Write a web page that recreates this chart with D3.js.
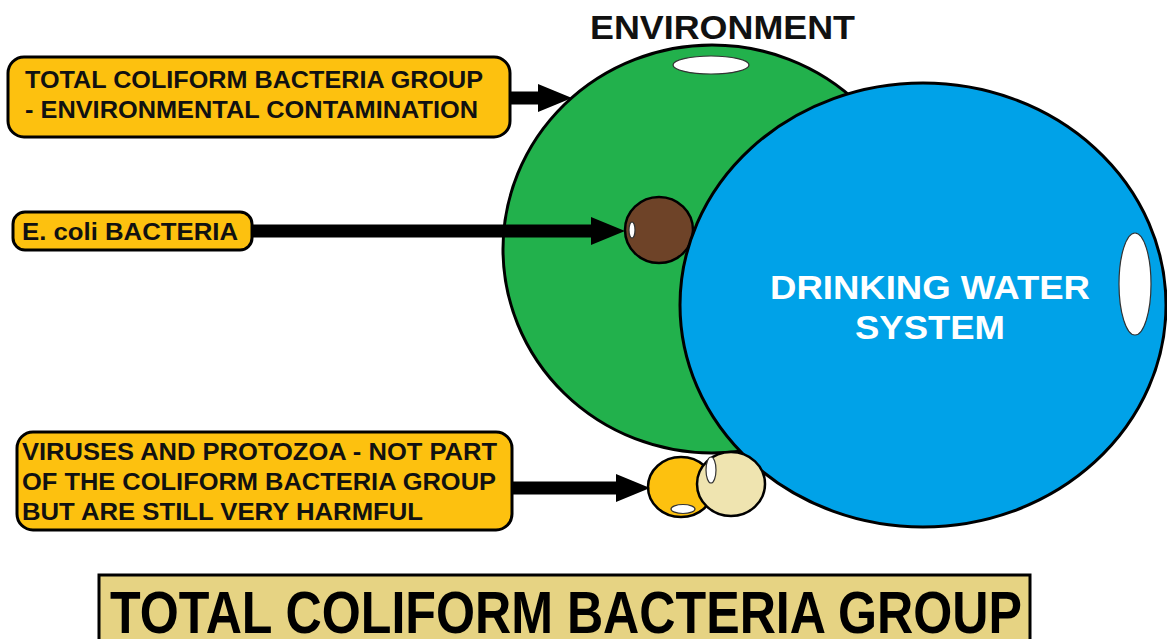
<!DOCTYPE html>
<html>
<head>
<meta charset="utf-8">
<script src="https://cdn.jsdelivr.net/npm/d3@7"></script>
<style>
  body { margin: 0; background: #fff; }
  svg text { font-family: "Liberation Sans", Arial, sans-serif; font-weight: bold; }
</style>
</head>
<body>
<div id="chart"></div>
<script>
// diagram content
var blobNames = ["environment", "water", "ecoli", "virus", "protozoa"]
var blobColors = ["#22b14c", "#00a2e8", "#6e4328", "#fdc10f", "#efe4b0"]

var calloutLines = [
  ["TOTAL COLIFORM BACTERIA GROUP", "- ENVIRONMENTAL CONTAMINATION"],
  ["E. coli BACTERIA"],
  ["VIRUSES AND PROTOZOA - NOT PART", "OF THE COLIFORM BACTERIA GROUP", "BUT ARE STILL VERY HARMFUL"]
]

var envLabel = "ENVIRONMENT"
var waterLabel = ["DRINKING WATER", "SYSTEM"]
var mainTitle = "TOTAL COLIFORM BACTERIA GROUP"

var svgWidth = 1167
var svgHeight = 639

var svg = d3.select("#chart")
  .append("svg")
  .attr("width", svgWidth)
  .attr("height", svgHeight)

// layout (pixels)
var blobGeom = {
  environment: { cx: 712, cy: 249, rx: 209, ry: 204 },
  water:       { cx: 923, cy: 305, rx: 243, ry: 222 },
  ecoli:       { cx: 659, cy: 230, rx: 34, ry: 33 },
  virus:       { cx: 681, cy: 487, rx: 33, ry: 30 },
  protozoa:    { cx: 731, cy: 484, rx: 34, ry: 32 }
}
var highlights = [
  { cx: 711, cy: 65, rx: 38, ry: 9 },
  { cx: 1135, cy: 284, rx: 16, ry: 51 },
  { cx: 632, cy: 230, rx: 3, ry: 8 },
  { cx: 683, cy: 509, rx: 12, ry: 4.5 },
  { cx: 711, cy: 470, rx: 5, ry: 13 }
]
var boxes = [
  { x: 8, y: 57, w: 502, h: 80, r: 16, tx: 25, base: 88, gap: 30, widths: [458, 453], arrowY: 98, arrowTo: 572 },
  { x: 13, y: 212, w: 239, h: 38, r: 12, tx: 22, base: 240, gap: 0, widths: [216], arrowY: 231, arrowTo: 625 },
  { x: 17, y: 432, w: 495, h: 98, r: 16, tx: 22, base: 460, gap: 30, widths: [475, 474, 401], arrowY: 488, arrowTo: 650 }
]
var waterWidths = [320, 150]

var blobs = blobNames.map((n, i) => Object.assign({ name: n, color: blobColors[i] }, blobGeom[n]))
var drawOrder = ["environment", "ecoli", "water", "virus", "protozoa"]

svg.append("g")
  .selectAll("ellipse")
  .data(drawOrder.map(n => blobs.find(b => b.name == n)))
  .enter()
  .append("ellipse")
  .attr("cx", d => d.cx)
  .attr("cy", d => d.cy)
  .attr("rx", d => d.rx)
  .attr("ry", d => d.ry)
  .attr("fill", d => d.color)
  .attr("stroke", "#000")
  .attr("stroke-width", d => d.rx > 100 ? 3 : 2.5)

// white specks
svg.append("g")
  .selectAll("ellipse")
  .data(highlights)
  .enter()
  .append("ellipse")
  .attr("cx", d => d.cx)
  .attr("cy", d => d.cy)
  .attr("rx", d => d.rx)
  .attr("ry", d => d.ry)
  .attr("fill", "#fff")
  .attr("stroke", "#333")
  .attr("stroke-width", 1.2)

// arrows
var arrows = svg.append("g")
boxes.forEach(b => {
  var x0 = b.x + b.w, x1 = b.arrowTo, y = b.arrowY
  var head = 34, hh = 14, sh = 6.5
  arrows.append("path")
    .attr("d", `M${x0},${y - sh} L${x1 - head},${y - sh} L${x1 - head},${y - hh} L${x1},${y} L${x1 - head},${y + hh} L${x1 - head},${y + sh} L${x0},${y + sh} Z`)
    .attr("fill", "#000")
})

// callout boxes
var callouts = svg.append("g")
boxes.forEach((b, i) => {
  callouts.append("rect")
    .attr("x", b.x).attr("y", b.y)
    .attr("width", b.w).attr("height", b.h)
    .attr("rx", b.r).attr("ry", b.r)
    .attr("fill", "#fdc10f")
    .attr("stroke", "#000")
    .attr("stroke-width", 3)
  calloutLines[i].forEach((t, j) => {
    callouts.append("text")
      .attr("x", b.tx)
      .attr("y", b.base + j * b.gap)
      .attr("font-size", 23)
      .attr("textLength", b.widths[j])
      .attr("lengthAdjust", "spacingAndGlyphs")
      .attr("fill", "#111")
      .text(t)
  })
})

svg.append("text")
  .attr("x", 590).attr("y", 39)
  .attr("font-size", 33)
  .attr("textLength", 265)
  .attr("lengthAdjust", "spacingAndGlyphs")
  .attr("fill", "#111")
  .text(envLabel)

svg.append("g")
  .selectAll("text")
  .data(waterLabel)
  .enter()
  .append("text")
  .attr("x", 930)
  .attr("y", (d, i) => 299 + i * 40)
  .attr("text-anchor", "middle")
  .attr("font-size", 33)
  .attr("textLength", (d, i) => waterWidths[i])
  .attr("lengthAdjust", "spacingAndGlyphs")
  .attr("fill", "#fff")
  .text(d => d)

// title banner
svg.append("rect")
  .attr("x", 99).attr("y", 575)
  .attr("width", 931).attr("height", 70)
  .attr("fill", "#e6d383")
  .attr("stroke", "#000")
  .attr("stroke-width", 3)

svg.append("text")
  .attr("x", 110).attr("y", 633)
  .attr("font-size", 60)
  .attr("textLength", 912)
  .attr("lengthAdjust", "spacingAndGlyphs")
  .attr("fill", "#000")
  .text(mainTitle)
</script>
</body>
</html>
